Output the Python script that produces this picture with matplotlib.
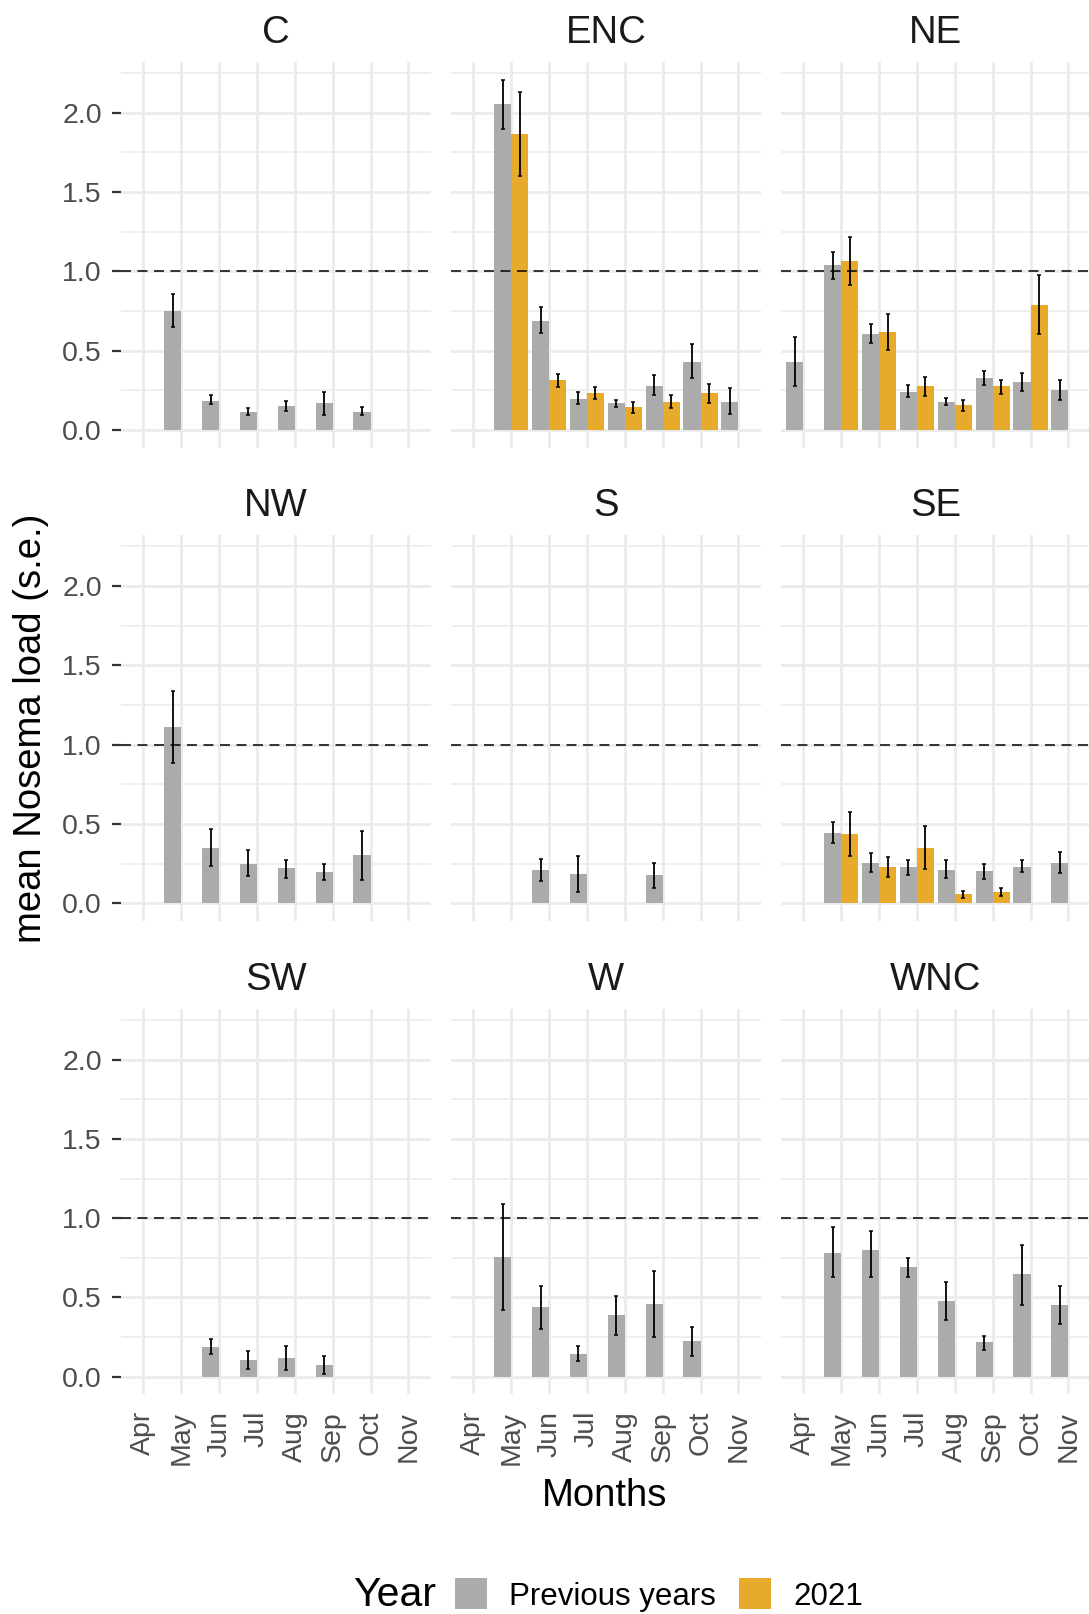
import numpy as np
import matplotlib
matplotlib.use("Agg")
import matplotlib.pyplot as plt
from matplotlib.patches import Patch

plt.rcParams["font.family"] = ["Liberation Sans", "DejaVu Sans"]

nan = np.nan
months = ["Apr", "May", "Jun", "Jul", "Aug", "Sep", "Oct", "Nov"]
regions = ["C", "ENC", "NE", "NW", "S", "SE", "SW", "W", "WNC"]

# previous years: mean, lower and upper s.e. bounds (Apr..Nov)
C_prev = [nan, 0.750, 0.185, 0.113, 0.149, 0.168, 0.113, nan]
C_prev_lo = [nan, 0.647, 0.164, 0.092, 0.120, 0.092, 0.092, nan]
C_prev_hi = [nan, 0.855, 0.219, 0.139, 0.183, 0.237, 0.147, nan]

ENC_prev = [nan, 2.053, 0.689, 0.195, 0.168, 0.275, 0.429, 0.179]
ENC_prev_lo = [nan, 1.896, 0.612, 0.164, 0.145, 0.219, 0.326, 0.101]
ENC_prev_hi = [nan, 2.207, 0.776, 0.237, 0.191, 0.347, 0.542, 0.263]
ENC_2021 = [nan, 1.864, 0.313, 0.231, 0.143, 0.179, 0.231, nan]
ENC_2021_lo = [nan, 1.604, 0.271, 0.198, 0.107, 0.141, 0.172, nan]
ENC_2021_hi = [nan, 2.129, 0.355, 0.271, 0.177, 0.219, 0.292, nan]

NE_prev = [0.427, 1.038, 0.607, 0.242, 0.177, 0.330, 0.303, 0.250]
NE_prev_lo = [0.280, 0.954, 0.549, 0.208, 0.156, 0.282, 0.246, 0.191]
NE_prev_hi = [0.588, 1.124, 0.666, 0.282, 0.200, 0.370, 0.361, 0.317]
NE_2021 = [nan, 1.066, 0.616, 0.275, 0.160, 0.275, 0.786, nan]
NE_2021_lo = [nan, 0.912, 0.504, 0.214, 0.122, 0.229, 0.607, nan]
NE_2021_hi = [nan, 1.215, 0.731, 0.336, 0.191, 0.317, 0.977, nan]

NW_prev = [nan, 1.114, 0.346, 0.250, 0.220, 0.195, 0.302, nan]
NW_prev_lo = [nan, 0.886, 0.233, 0.172, 0.157, 0.145, 0.149, nan]
NW_prev_hi = [nan, 1.339, 0.468, 0.334, 0.273, 0.246, 0.457, nan]

S_prev = [nan, nan, 0.212, 0.185, nan, 0.176, nan, nan]
S_prev_lo = [nan, nan, 0.143, 0.073, nan, 0.097, nan, nan]
S_prev_hi = [nan, nan, 0.281, 0.298, nan, 0.254, nan, nan]

SE_prev = [nan, 0.445, 0.256, 0.229, 0.212, 0.201, 0.229, 0.256]
SE_prev_lo = [nan, 0.378, 0.197, 0.180, 0.157, 0.153, 0.197, 0.193]
SE_prev_hi = [nan, 0.514, 0.319, 0.273, 0.273, 0.246, 0.273, 0.327]
SE_2021 = [nan, 0.437, 0.229, 0.346, 0.059, 0.069, nan, nan]
SE_2021_lo = [nan, 0.298, 0.168, 0.218, 0.036, 0.048, nan, nan]
SE_2021_hi = [nan, 0.577, 0.290, 0.487, 0.076, 0.094, nan, nan]

SW_prev = [nan, nan, 0.190, 0.103, 0.119, 0.075, nan, nan]
SW_prev_lo = [nan, nan, 0.146, 0.048, 0.044, 0.017, nan, nan]
SW_prev_hi = [nan, nan, 0.241, 0.161, 0.197, 0.132, nan, nan]

W_prev = [nan, 0.753, 0.439, 0.146, 0.387, 0.458, 0.226, nan]
W_prev_lo = [nan, 0.418, 0.299, 0.098, 0.262, 0.249, 0.132, nan]
W_prev_hi = [nan, 1.092, 0.571, 0.197, 0.508, 0.669, 0.312, nan]

WNC_prev = [nan, 0.780, 0.797, 0.690, 0.477, 0.218, 0.646, 0.450]
WNC_prev_lo = [nan, 0.626, 0.628, 0.626, 0.356, 0.167, 0.454, 0.331]
WNC_prev_hi = [nan, 0.946, 0.921, 0.749, 0.598, 0.259, 0.831, 0.571]

prev = {
    "C": (C_prev, C_prev_lo, C_prev_hi),
    "ENC": (ENC_prev, ENC_prev_lo, ENC_prev_hi),
    "NE": (NE_prev, NE_prev_lo, NE_prev_hi),
    "NW": (NW_prev, NW_prev_lo, NW_prev_hi),
    "S": (S_prev, S_prev_lo, S_prev_hi),
    "SE": (SE_prev, SE_prev_lo, SE_prev_hi),
    "SW": (SW_prev, SW_prev_lo, SW_prev_hi),
    "W": (W_prev, W_prev_lo, W_prev_hi),
    "WNC": (WNC_prev, WNC_prev_lo, WNC_prev_hi),
}
cur = {
    "ENC": (ENC_2021, ENC_2021_lo, ENC_2021_hi),
    "NE": (NE_2021, NE_2021_lo, NE_2021_hi),
    "SE": (SE_2021, SE_2021_lo, SE_2021_hi),
}

GRAY = "#ababab"
ORANGE = "#e8aa2a"
GRID = "#ebebeb"

W, H = 1089, 1614
fig = plt.figure(figsize=(W / 100, H / 100), dpi=100, facecolor="white")

col_left = [120.6, 450.6, 780.6]
col_w = 310.5
row_top = [62.0, 535.3, 1008.7]
row_h = 385.6
x = np.arange(len(months))
BW = 0.45


def draw(ax, vals, offset, color):
    m, lo, hi = (np.array(v, dtype=float) for v in vals)
    ok = ~np.isnan(m)
    xs = x[ok] + offset
    ax.bar(xs, m[ok], width=BW, color=color, zorder=2)
    ax.errorbar(xs, m[ok], yerr=[m[ok] - lo[ok], hi[ok] - m[ok]], fmt="none",
                ecolor="black", elinewidth=1.3, capsize=1.7, capthick=1.1, zorder=3)


for i, reg in enumerate(regions):
    r, c = divmod(i, 3)
    l, t = col_left[c], row_top[r]
    ax = fig.add_axes([l / W, 1 - (t + row_h) / H, col_w / W, row_h / H])
    ax.set_xlim(-0.6, len(months) - 0.4)
    ax.set_ylim(-0.1105, 2.3205)
    ax.set_axisbelow(True)
    for s in ax.spines.values():
        s.set_visible(False)
    ax.set_xticks(x)
    ax.set_xticklabels(months, rotation=90)
    ax.set_yticks([0, 0.5, 1.0, 1.5, 2.0])
    ax.set_yticklabels(["0.0", "0.5", "1.0", "1.5", "2.0"])
    ax.set_yticks([0.25, 0.75, 1.25, 1.75, 2.25], minor=True)
    ax.grid(which="major", color=GRID, lw=2.0)
    ax.grid(which="minor", axis="y", color=GRID, lw=1.1)
    ax.tick_params(axis="x", length=0, pad=12, labelsize=20.5, labelcolor="#4d4d4d",
                   labelbottom=(r == 2))
    ax.tick_params(axis="y", which="major", length=6.5, width=1.6, color="#333333",
                   pad=7, labelsize=20.5, labelcolor="#4d4d4d",
                   left=(c == 0), labelleft=(c == 0))
    ax.tick_params(axis="y", which="minor", length=0)

    draw(ax, prev[reg], -BW / 2, GRAY)
    if reg in cur:
        draw(ax, cur[reg], BW / 2, ORANGE)
    ax.axhline(1.0, color="black", lw=1.1, dashes=(6.5, 4.3), zorder=4)

    fig.text((l + col_w / 2) / W, 1 - (t - 19) / H, reg, ha="center", va="baseline",
             fontsize=27.5, color="#1a1a1a")

fig.text(31 / W, 1 - 728 / H, "mean Nosema load (s.e.)", rotation=90,
         ha="center", va="center", fontsize=27.5, color="black")
fig.text(605 / W, 1 - 1496 / H, "Months", ha="center", va="center",
         fontsize=27.5, color="black")

fig.text(353 / W, 1 - 1595 / H, "Year", ha="left", va="center", fontsize=29.5, color="black")
handles = [Patch(facecolor=GRAY, edgecolor="none", label="Previous years"),
           Patch(facecolor=ORANGE, edgecolor="none", label="2021")]
fig.legend(handles=handles, loc="center left", bbox_to_anchor=(455 / W, 1 - 1595 / H),
           ncol=2, frameon=False, fontsize=22.5, handlelength=1.02, handleheight=1.15,
           handletextpad=0.72, columnspacing=0.74, borderpad=0, borderaxespad=0)

fig.savefig("out.png", dpi=100, facecolor="white")
